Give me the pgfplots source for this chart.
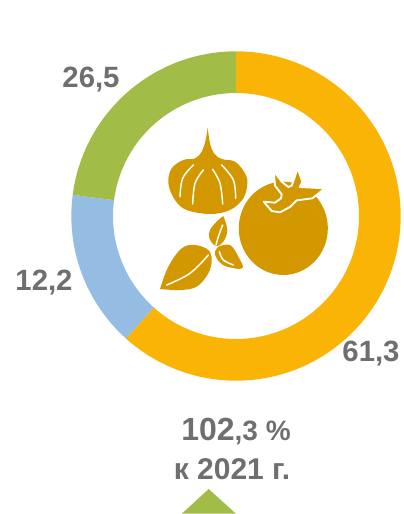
\documentclass[border=0pt]{standalone}
\usepackage{fontspec}
\setmainfont{Liberation Sans}
\usepackage{pgfplots}
\pgfplotsset{compat=1.18}
\definecolor{cOrange}{HTML}{FAB406}
\definecolor{cBlue}{HTML}{95BDE3}
\definecolor{cGreen}{HTML}{A2BC48}
\definecolor{cText}{HTML}{706E6E}
\definecolor{cIcon}{HTML}{D39800}
\pgfplotsset{
  z/.style={no marks,forget plot,x filter/.expression={140+x/3},y filter/.expression={110+y/3}},
  sh/.style={z,fill=cIcon,draw=none,smooth,tension=0.6},
  ln/.style={z,draw=white,line width=1.1pt,smooth,tension=0.6,line cap=round},
}
\begin{document}
\begin{tikzpicture}[x=0.75pt,y=0.75pt]
% sector shares as drawn in the picture (labels are the printed values)
\pgfmathsetmacro{\vA}{61.65}
\pgfmathsetmacro{\vB}{15.4}
\pgfmathsetmacro{\vC}{22.95}
\pgfmathsetmacro{\aA}{90-3.6*\vA}
\pgfmathsetmacro{\aB}{\aA-3.6*\vB}
\pgfmathsetmacro{\aC}{\aB-3.6*\vC}
\def\Ro{123.5pt}
\def\Ri{92.25pt}
\begin{axis}[
  scale only axis,width=300.75pt,height=385.5pt,
  xmin=0,xmax=401,ymin=0,ymax=514,y dir=reverse,
  hide axis,clip=false]
\path (0,0) rectangle (401,514);
% ring
\fill[cOrange] (236,216) ++(90:\Ro) arc[start angle=90,end angle=\aA,radius=\Ro] -- ++(\aA+180:31.25pt) arc[start angle=\aA,end angle=90,radius=\Ri] -- cycle;
\fill[cBlue] (236,216) ++(\aA:\Ro) arc[start angle=\aA,end angle=\aB,radius=\Ro] -- ++(\aB+180:31.25pt) arc[start angle=\aB,end angle=\aA,radius=\Ri] -- cycle;
\fill[cGreen] (236,216) ++(\aB:\Ro) arc[start angle=\aB,end angle=\aC,radius=\Ro] -- ++(\aC+180:31.25pt) arc[start angle=\aC,end angle=\aB,radius=\Ri] -- cycle;
% onion
\addplot[sh] coordinates {(203,52)(210,100)(222,130)(245,147)(285,155)(315,190)(322,220)(310,265)(270,300)(210,312)(140,300)(105,270)(85,220)(95,175)(130,150)(165,145)(185,125)(197,90)(203,52)} --cycle;
\addplot[ln] coordinates {(160,165)(128,205)(120,260)};
\addplot[ln] coordinates {(190,180)(165,220)(158,282)};
\addplot[ln] coordinates {(218,178)(240,220)(248,282)};
\addplot[ln] coordinates {(245,165)(280,210)(287,265)};
% tomato
\fill[cIcon] (283.3,228.3) ellipse[x radius=33.4pt,y radius=35pt];
\addplot[no marks,forget plot,fill=cIcon,draw=white,line width=1.4pt,line join=round,
  x filter/.expression={255+x/3},y filter/.expression={165+y/3}] coordinates
 {(56,18)(80,50)(100,66)(110,62)(116,45)(128,10)(142,50)(134,66)(210,70)(172,100)(125,106)(105,126)(75,142)(50,138)(26,110)(60,113)(78,100)(80,88)(60,62)} --cycle;
% leaves
\addplot[sh] coordinates {(60,537)(85,470)(125,415)(165,405)(205,420)(215,450)(205,490)(170,530)(120,540)(60,537)} --cycle;
\addplot[ln] coordinates {(80,525)(150,490)(205,435)};
\addplot[sh] coordinates {(250,318)(262,360)(250,395)(228,408)(208,385)(210,360)(230,335)(250,318)} --cycle;
\addplot[ln] coordinates {(248,345)(235,380)(228,405)};
\addplot[sh] coordinates {(235,410)(270,405)(295,440)(307,475)(255,468)(230,445)(225,425)(235,410)} --cycle;
\addplot[ln] coordinates {(238,425)(250,450)(280,465)};
% triangle
\addplot[no marks,forget plot,fill=cGreen,draw=none] coordinates {(182,513.5)(208.7,489)(235.7,513.5)} --cycle;
% labels
\node[text=cText,font=\bfseries\fontsize{22}{24}\selectfont] at (91,80) {26,5};
\node[text=cText,font=\bfseries\fontsize{22}{24}\selectfont] at (44,283) {12,2};
\node[text=cText,font=\bfseries\fontsize{22}{24}\selectfont] at (371,354) {61,3};
\node[text=cText,font=\bfseries\fontsize{24}{26}\selectfont] at (236,431) {102{\fontsize{21}{24}\selectfont,3 \%}};
\node[text=cText,font=\bfseries\fontsize{22.5}{24}\selectfont] at (232,469) {к 2021 г.};
\end{axis}
\end{tikzpicture}
\end{document}
